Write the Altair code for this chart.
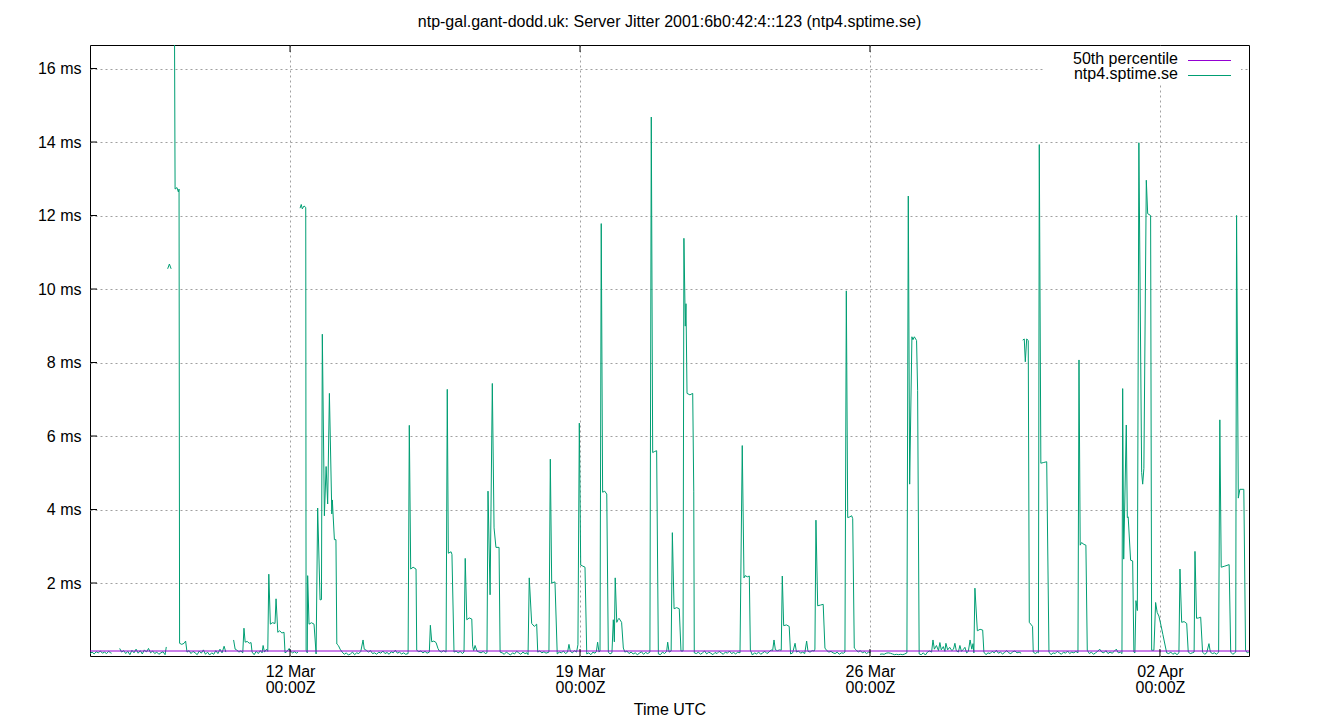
import altair as alt
import pandas as pd

# ---------------- data (hours since 2024-03-07 00:00Z, jitter in ms; None = gap) -------------
TITLE = "ntp-gal.gant-dodd.uk: Server Jitter 2001:6b0:42:4::123 (ntp4.sptime.se)"
SERIES_NAMES = ["50th percentile", "ntp4.sptime.se"]
SERIES_COLORS = ["#9400d3", "#009e73"]
PERCENTILE_50 = [0.15]
Y_TICKS = [2, 4, 6, 8, 10, 12, 14, 16]
X_TICK_DATES = ["2024-03-12", "2024-03-19", "2024-03-26", "2024-04-02"]
X_RANGE_HOURS = [4.1, 675.6]
Y_RANGE = [0.014, 16.64]

week1 = [
    [4.1, 0.08], [5.3, 0.12], [6.5, 0.07], [7.7, 0.13], [8.9, 0.1], [10.1, 0.15], [11.3, 0.09],
    [12.5, 0.12], [13.7, 0.08], [14.9, 0.14], [16.1, 0.1], [16.6, 0.09], None,
    [21.3, 0.22], [22.4, 0.12], [23.6, 0.16], [24.8, 0.08], [26, 0.14], [27.2, 0.05], [28.4, 0.17],
    [29.6, 0.1], [30.8, 0.2], [32, 0.09], [33.2, 0.16], [34.4, 0.07], [35.6, 0.18], [36.8, 0.12],
    [38, 0.22], [39.2, 0.1], [40.4, 0.15], [41.6, 0.08], [42.8, 0.12], [44, 0.06], [45.2, 0.1],
    [46.4, 0.13], [47.6, 0.05], [48.3, 0.26], None,
    [49.1, 10.55], [50.1, 10.68], [51.1, 10.55], None,
    [52.9, 19.0], [53.4, 12.72], [54.5, 12.76], [55.3, 12.64], [55.7, 12.72], [56.0, 0.36],
    [57.3, 0.33], [58.6, 0.36], [59.5, 0.42], [60.3, 0.12], [61.5, 0.16], [62.6, 0.08],
    [63.8, 0.14], [65, 0.1], [66.2, 0.05], [67.4, 0.15], [68.6, 0.09], [69.8, 0.18], [71, 0.06],
    [72.2, 0.12], [73.4, 0.04], [74.6, 0.1], [75.8, 0.06], [77, 0.16], [78.2, 0.08], [79.4, 0.2],
    [80.6, 0.1], [81.8, 0.28], [82.8, 0.12], None,
    [87.3, 0.45], [88.2, 0.2], [89.1, 0.18], [90.3, 0.12], [91.5, 0.15], [92.6, 0.1], [93.3, 0.77],
    [94, 0.39], [95.2, 0.41], [96.4, 0.36], [97.4, 0.38], [98, 0.12], [99.2, 0.05], [100.4, 0.14],
    [101.6, 0.08], [102.8, 0.16], [103.8, 0.1], [104.4, 0.3], [105.2, 0.12], [106.4, 0.2],
    [107.1, 0.14], [107.7, 2.24], [108.6, 0.88], [109.8, 0.92], [111.3, 0.9], [111.9, 1.57],
    [112.9, 0.66], [114, 0.7], [115.3, 0.64], [116.5, 0.66], [117.1, 0.1], [118.3, 0.14],
    [119.5, 0.22], [120.2, 0.15], [121.4, 0.1], [122.6, 0.13], [123.8, 0.09], [124.6, 0.12], None,
    [125.8, 12.2], [126.5, 12.3], [127.1, 12.18], [128.1, 12.26], [129.1, 12.22], [129.3, 0.17],
    [130.0, 0.1], [130.2, 2.2], [131, 0.88], [132.4, 0.92], [133.9, 0.88], [135.1, 0.07],
    [136.0, 4.04], [137.4, 1.54], [138.2, 1.55], [138.7, 8.77], [139.9, 3.83], [140.9, 5.17],
    [141.8, 4.15], [142.8, 7.16], [144.2, 3.88], [144.5, 4.26], [145.7, 3.18], [146.6, 3.18],
    [147.1, 0.34], [148, 0.3], [149, 0.2], [150.2, 0.12], [151.4, 0.06], [152.6, 0.1],
    [153.8, 0.04], [155, 0.07], [156.2, 0.12], [157.4, 0.05], [158.6, 0.1], [159.8, 0.08],
    [161, 0.14], [162.3, 0.45], [163, 0.2], [164.2, 0.17], [165.4, 0.12], [166.6, 0.16],
    [167.8, 0.08],
]

week2 = [
    [169, 0.1], [170.2, 0.06], [171.4, 0.12], [172.6, 0.09], [173.8, 0.15], [175, 0.08],
    [176.2, 0.11], [177.4, 0.06], [178.6, 0.13], [179.8, 0.1], [181, 0.17], [182.2, 0.09],
    [183.4, 0.12], [184.6, 0.07], [185.8, 0.1], [187, 0.06], [188.4, 0.08],
    [189.1, 6.29], [189.9, 2.38], [191.3, 2.43], [193, 2.38], [193.4, 0.17], [194.6, 0.13],
    [195.8, 0.15], [197, 0.1], [198.2, 0.14], [199.4, 0.09], [200.7, 0.12], [201.3, 0.85],
    [202.1, 0.4], [203.3, 0.42], [204.6, 0.38], [205.7, 0.22], [206.5, 0.15], [207.7, 0.12],
    [208.9, 0.16], [210.4, 0.12], [211.1, 7.27], [211.7, 2.81], [213.3, 2.85], [213.8, 2.78],
    [215, 0.12], [216.2, 0.15], [217.4, 0.1], [218.6, 0.14], [219.8, 0.08], [220.8, 0.12],
    [221.5, 2.67], [222.4, 1.0], [223.8, 1.05], [225.3, 1.02], [225.8, 0.28], [226.4, 0.16],
    [227.2, 0.3], [228.3, 0.15], [229.5, 0.12], [230.7, 0.1], [231.9, 0.14], [233.1, 0.08],
    [234.1, 0.1], [234.7, 4.5], [235.9, 1.68], [237.2, 7.43], [238.2, 3.5], [239.3, 2.97],
    [241.1, 2.97], [241.7, 0.12], [242.9, 0.1], [244.1, 0.06], [245.3, 0.12], [246.5, 0.08],
    [247.7, 0.04], [248.9, 0.1], [250.1, 0.07], [251.3, 0.14], [252.5, 0.1], [253.7, 0.06],
    [254.9, 0.12], [256.1, 0.08], [257.3, 0.1], [257.9, 0.05],
    [258.6, 2.14], [260, 0.9], [261.5, 0.82], [262.9, 0.88], [263.5, 0.12], [264.7, 0.15],
    [265.9, 0.1], [267.1, 0.13], [268.3, 0.09], [270, 0.12], [270.8, 5.37], [271.6, 2.0],
    [273.5, 2.03], [274.8, 0.07], [276, 0.12], [277.2, 0.1], [278.4, 0.15], [279.6, 0.08],
    [280.8, 0.12], [281.6, 0.33], [282.4, 0.14], [283.6, 0.1], [284.8, 0.16], [286, 0.12],
    [286.8, 0.32], [287.6, 6.35], [288.4, 2.49], [289.6, 2.46], [290.9, 2.43], [291.9, 0.07],
]

week3 = [
    [293.1, 0.1], [294.3, 0.05], [295.5, 0.12], [296.7, 0.09], [297.5, 0.14], [298.2, 0.39],
    [299, 0.12], [299.6, 0.15], [300.3, 11.78], [301.1, 4.47], [302.3, 4.5], [303.5, 4.42],
    [304.4, 0.12], [305.4, 0.07], [306.5, 0.1], [307.3, 1.0], [307.9, 0.4], [308.4, 2.14],
    [309.3, 0.93], [310, 1.0], [310.6, 1.04], [312.1, 0.93], [313.1, 0.23], [314, 0.12],
    [315.2, 0.15], [316.4, 0.08], [317.6, 0.12], [318.8, 0.07], [320, 0.1], [321.2, 0.05],
    [322.4, 0.09], [323.6, 0.13], [324.8, 0.06], [326, 0.11], [327.2, 0.08], [328.5, 0.12],
    [329.3, 14.68], [330.1, 5.55], [331.3, 5.58], [332.4, 5.6], [333.4, 0.07], [334.6, 0.05],
    [335.8, 0.12], [337, 0.08], [338.2, 0.14], [338.8, 0.39], [339.6, 0.12], [340.8, 0.15],
    [341.5, 3.37], [342.5, 1.3], [344, 1.33], [345.5, 1.3], [346.5, 0.15], [347.7, 0.15],
    [348.2, 11.38], [349, 8.99], [349.4, 9.6], [350, 7.16], [351.7, 7.12], [353.3, 7.16],
    [353.9, 4.5], [354.2, 0.1], [355.4, 0.08], [356.6, 0.12], [357.8, 0.06], [359, 0.1],
    [360.2, 0.15], [361.4, 0.07], [362.6, 0.12], [363.8, 0.09], [365, 0.05], [366.2, 0.11],
    [367.4, 0.08], [368.6, 0.14], [369.8, 0.1], [371, 0.06], [372.2, 0.12], [373.4, 0.09],
    [374.6, 0.15], [375.8, 0.08], [377, 0.11], [378.2, 0.07], [379.4, 0.12], [380.7, 0.1],
    [382, 5.74], [383, 2.14], [383.6, 2.2], [385, 2.17], [386.1, 2.19], [386.7, 0.17],
    [387.9, 0.04], [389.1, 0.1], [390.3, 0.07], [391.5, 0.12], [392.7, 0.06], [393.9, 0.1],
    [395.1, 0.14], [396.3, 0.08], [397.5, 0.12], [398.7, 0.18], [399.6, 0.16], [400.4, 0.45],
    [401.2, 0.18], [402.4, 0.16], [403.6, 0.18], [404.6, 0.17], [405.2, 2.19], [406, 0.84],
    [407.6, 0.86], [409.2, 0.82], [410, 0.07], [411.2, 0.1], [412.6, 0.36], [413.4, 0.12],
    [414.6, 0.15], [415.8, 0.09], [417, 0.12], [418.2, 0.08], [419.3, 0.42], [420.1, 0.14],
    [421.3, 0.12], [422.5, 0.16], [423.7, 0.15], [424.1, 0.2], [424.7, 3.71], [425.7, 1.38],
    [427.3, 1.4], [428.9, 1.42], [429.9, 0.23], [431, 0.16], [432.2, 0.12], [433.4, 0.14],
    [434.6, 0.1], [435.8, 0.08], [437, 0.12], [438.2, 0.06], [439.4, 0.1], [440.6, 0.09],
    [441.5, 0.12], [442.3, 9.95], [443.1, 3.78], [444.3, 3.8], [445.4, 3.83], [446, 3.75],
    [446.9, 0.23], [448, 0.18], [449.2, 0.12], [450.4, 0.16], [451.6, 0.1], [452.8, 0.13],
    [454, 0.08], [455.2, 0.12], [456.4, 0.1], None,
]

week4 = [
    [461.8, 0.06], [463, 0.07], [464.2, 0.06], [465.4, 0.09], [466.6, 0.1], [467.8, 0.09],
    [469, 0.07], [470.2, 0.05], [471.4, 0.06], [472.6, 0.05], [473.8, 0.06], [475, 0.05],
    [476.2, 0.07], [477.4, 0.1], [478.2, 12.53], [479, 4.69], [480.3, 8.7], [480.9, 8.62],
    [481.7, 8.7], [483, 8.6], [483.6, 7.24], [484.5, 0.07], [485.7, 0.05], [486.9, 0.1],
    [488.1, 0.04], [489.3, 0.12], [490.5, 0.15], [491.7, 0.12], [492.5, 0.45], [493.3, 0.2],
    [494.5, 0.3], [495.7, 0.16], [496.5, 0.38], [497.3, 0.18], [498.5, 0.27], [499.4, 0.14],
    [500, 0.36], [501, 0.18], [502.2, 0.25], [503.4, 0.16], [504.4, 0.2], [505.2, 0.36],
    [506, 0.16], [507.2, 0.12], [508.1, 0.3], [509, 0.14], [510.2, 0.2], [511, 0.25],
    [512, 0.1], [513, 0.14], [514, 0.45], [515, 0.2], [515.7, 0.35], [516.2, 0.1],
    [516.8, 1.86], [518.2, 0.7], [519.8, 0.74], [521.3, 0.72], [522, 0.12], [523.2, 0.05],
    [524.4, 0.1], [525.6, 0.08], [526.8, 0.14], [528, 0.1], [529.2, 0.17], [530.4, 0.09],
    [531.6, 0.12], [532.8, 0.07], [534, 0.11], [535.2, 0.16], [536.4, 0.1], [537.6, 0.08],
    [538.8, 0.13], [540, 0.15], [541.2, 0.1], [542.4, 0.12], [543.6, 0.09], None,
    [544.5, 8.61], [545.4, 8.64], [546, 8.02], [546.8, 8.64], [547.7, 8.6], [548.3, 0.93],
    [549.5, 0.86], [550.2, 0.82], [550.6, 0.12], [551.8, 0.08], [553, 0.12], [553.6, 0.1],
    [554.1, 13.93], [555, 5.26], [556.7, 5.28], [558.4, 5.3], [559.7, 0.12], [560.9, 0.05],
    [562.1, 0.1], [563.3, 0.08], [564.5, 0.14], [565.7, 0.1], [566.9, 0.06], [568.1, 0.12],
    [569.3, 0.09], [570.5, 0.15], [571.7, 0.08], [572.9, 0.12], [574.1, 0.1], [575.3, 0.14],
    [576.5, 0.1], [577.1, 8.07], [577.8, 3.03], [578.6, 3.1], [580, 3.05], [581.1, 3.03],
    [581.9, 0.17], [583.1, 0.08], [584.3, 0.12], [585.5, 0.06], [586.7, 0.1], [587.9, 0.14],
    [589.1, 0.2], [590.3, 0.12], [591.5, 0.1], [592.7, 0.16], [593.9, 0.08], [595.1, 0.12],
    [596.3, 0.09], [597.5, 0.14], [598.7, 0.2], [599.9, 0.1], [601.1, 0.12], [602, 0.08],
    [602.4, 7.29], [603, 2.65], [604.5, 6.3], [605.1, 3.78], [605.6, 3.8], [607, 2.62],
    [608.2, 2.6], [608.9, 0.12], [609.5, 0.1], [610.1, 1.52], [610.9, 1.25], [611.8, 13.98],
    [613.4, 5.01], [614, 4.69], [614.7, 5.12], [616.1, 12.96], [616.9, 12.05], [618.6, 12.0],
    [619.2, 0.17], [620.5, 0.17], [621.5, 1.47], [622.4, 1.2], [623.4, 1.1], [624.6, 0.85],
    [625.7, 0.6], [627.9, 0.1], [629.1, 0.08], [630.3, 0.12], [631.5, 0.06], [632.7, 0.1],
    [633.9, 0.05], [635, 0.1], [635.6, 2.38], [636.6, 0.93], [638, 0.95], [639.5, 0.9],
    [640.4, 0.12], [641.6, 0.08], [642.8, 0.1], [643.8, 0.12], [644.3, 2.86], [645.2, 1.04],
    [646.4, 1.05], [647.6, 1.07], [648.7, 0.12], [649.9, 0.06], [651.1, 0.1], [652.4, 0.35],
    [653.2, 0.12], [654.4, 0.08], [655.6, 0.1], [656.8, 0.06], [658, 0.12], [658.7, 6.44],
    [659.5, 2.43], [661.6, 2.46], [664.1, 2.5], [665, 0.12], [666.2, 0.06], [667.4, 0.1],
    [667.9, 0.12], [668.4, 12.0], [669.4, 4.31], [670.3, 4.55], [672.6, 4.55], [673.6, 0.17],
    [674.6, 0.1], [675.5, 0.12],
]

# ---------------- build tables ----------------
START_MS = int(pd.Timestamp("2024-03-07T00:00:00", tz="UTC").value // 10**6)
HOUR_MS = 3600 * 1000

rows = []
run = 0
for pt in week1 + week2 + week3 + week4:
    if pt is None:
        run += 1
        continue
    rows.append({"t": START_MS + pt[0] * HOUR_MS, "jitter": pt[1], "run": run})
series_df = pd.DataFrame(rows)

pct_df = pd.DataFrame({"jitter": PERCENTILE_50})
ytick_df = pd.DataFrame({"jitter": Y_TICKS})
x_tick_ms = [int(pd.Timestamp(d, tz="UTC").value // 10**6) for d in X_TICK_DATES]
xtick_df = pd.DataFrame({"t": x_tick_ms})
one_df = pd.DataFrame({"a": [0]})

W, H = 1159, 611
FONT = "Liberation Sans"
GRID_COLOR = "#a0a0a0"

xscale = alt.Scale(
    type="utc",
    domain=[START_MS + X_RANGE_HOURS[0] * HOUR_MS, START_MS + X_RANGE_HOURS[1] * HOUR_MS],
    nice=False,
)
yscale = alt.Scale(domain=Y_RANGE, nice=False, zero=False)

x_axis = alt.Axis(
    values=x_tick_ms,
    labelExpr="[utcFormat(datum.value, '%d %b'), '00:00Z']",
    labelFont=FONT, labelFontSize=16, labelColor="black", labelLineHeight=16,
    labelPadding=7, labelAngle=0, labelFlush=False, labelOverlap=False,
    ticks=False, tickSize=0, domain=False,
    grid=True, gridColor=GRID_COLOR, gridDash=[2, 3], gridWidth=1,
    title="Time UTC", titleFont=FONT, titleFontSize=16, titleFontWeight="normal",
    titleColor="black", titlePadding=6,
)
y_axis = alt.Axis(
    values=Y_TICKS,
    labelExpr="datum.value + ' ms'",
    labelFont=FONT, labelFontSize=16, labelColor="black", labelPadding=9,
    ticks=False, tickSize=0, domain=False,
    grid=True, gridColor=GRID_COLOR, gridDash=[2, 3], gridWidth=1,
    title=None,
)

X_ENC = alt.X("t:T", scale=xscale, axis=x_axis)
Y_ENC = alt.Y("jitter:Q", scale=yscale, axis=y_axis)

line = alt.Chart(series_df).mark_line(
    color=SERIES_COLORS[1], strokeWidth=1, clip=True, interpolate="linear"
).encode(x=X_ENC, y=Y_ENC, detail="run:N")

median = alt.Chart(pct_df).mark_rule(color=SERIES_COLORS[0], strokeWidth=1).encode(y=Y_ENC)

yticks = alt.Chart(ytick_df).mark_rule(color="black", strokeWidth=1).encode(
    y=Y_ENC, x=alt.value(0), x2=alt.value(7)
)
xticks_bottom = alt.Chart(xtick_df).mark_rule(color="black", strokeWidth=1).encode(
    x=X_ENC, y=alt.value(H), y2=alt.value(H - 7)
)
xticks_top = alt.Chart(xtick_df).mark_rule(color="black", strokeWidth=1).encode(
    x=X_ENC, y=alt.value(0), y2=alt.value(7)
)

legend_bg = alt.Chart(one_df).mark_rect(fill="white").encode(
    x=alt.value(955), x2=alt.value(1151), y=alt.value(1), y2=alt.value(38)
)
legend_layers = [legend_bg]
for i, (name, col) in enumerate(zip(SERIES_NAMES, SERIES_COLORS)):
    yy = 14 + 15 * i
    legend_layers.append(
        alt.Chart(one_df).mark_text(
            text=name, font=FONT, fontSize=16, color="black", align="right", baseline="middle"
        ).encode(x=alt.value(1088), y=alt.value(yy))
    )
    legend_layers.append(
        alt.Chart(one_df).mark_rule(color=col, strokeWidth=1).encode(
            x=alt.value(1098), x2=alt.value(1141), y=alt.value(yy + 1.5)
        )
    )

title = alt.Chart(one_df).mark_text(
    text=TITLE, font=FONT, fontSize=16, color="black", align="center", baseline="alphabetic"
).encode(x=alt.value(W / 2), y=alt.value(-18))

chart = alt.layer(
    line, median, yticks, xticks_bottom, xticks_top, *legend_layers, title
).properties(
    width=W, height=H,
    autosize=alt.AutoSizeParams(type="none"),
    padding={"left": 82, "top": 37, "right": 40, "bottom": 66},
    background="white",
).configure_view(
    stroke="black", strokeWidth=1
)

chart.save("out.html", embed_options={"renderer": "svg", "actions": False})
